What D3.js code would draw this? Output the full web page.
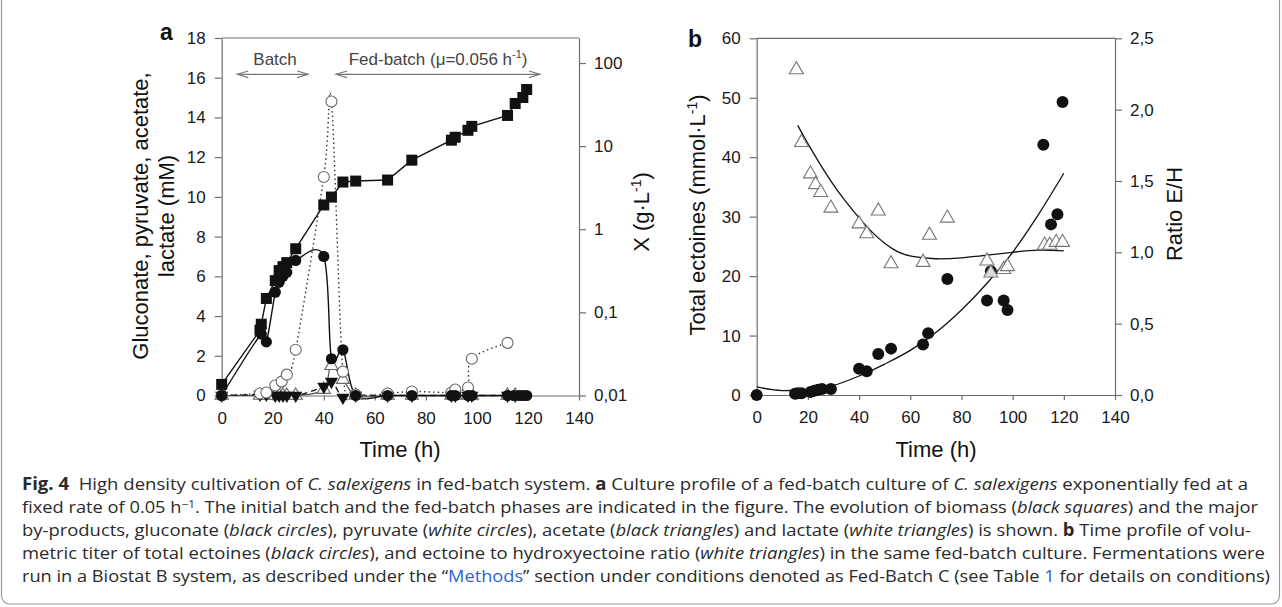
<!DOCTYPE html>
<html><head><meta charset="utf-8">
<script src="https://cdn.jsdelivr.net/npm/d3@7"></script>
<style>body{margin:0;background:#fff}svg{display:block}</style>
</head><body>
<svg id="c" width="1282" height="607"></svg>
<script>
// ---------------- DATA ----------------
// Panel a
const xTicksA = [0,20,40,60,80,100,120,140];
const yTicksA = [0,2,4,6,8,10,12,14,16,18];
const yTicksAR = [0.01,0.1,1,10,100];
const biomassT = [0,15,15.5,17.5,21,22.5,24,25.5,29,40,43,47.5,52.5,65,74.5,90,91.5,96.5,98,112,115,118,119.5];
const biomassX = [0.0136,0.061,0.072,0.147,0.241,0.318,0.355,0.397,0.583,1.96,2.44,3.70,3.80,3.91,6.78,11.8,12.8,15.5,17.3,23.4,32.6,38.5,48.0];
const gluconateT = [0,15.5,17.5,21,22.5,24,25.5,29,40,43,47.5,52.5,65,74.5,90,91.5,96.5,98,112,114.5,116.5,118,119.5];
const gluconateV = [0,3.1,2.7,5.2,5.7,6.0,6.2,6.8,7.0,1.85,2.3,0,0,0,0,0,0,0,0,0,0,0,0];
const pyruvateT = [0,15,17.5,21,23.5,25.5,29,40,43,47.5,52.5,65,74.5,90,91.5,96.5,98,112];
const pyruvateV = [0,0.1,0.15,0.5,0.7,1.05,2.3,11.0,14.8,1.2,0.05,0.1,0.2,0.15,0.3,0.4,1.85,2.65];
const acetateT = [0,15,17.5,21,22.5,24,25.5,29,40,43,47.5,52.5,65,74.5,90,91.5,96.5,98,112,115];
const acetateV = [0,0.05,0.05,0,0,0,0,0,0.45,0.7,-0.1,0,0,0,0,0,0,0,0,0];
const lactateT = [0,15,17.5,21,22.5,24,25.5,29,40,43,47.5,52.5,65,74.5,90,91.5,96.5,98,112,115];
const lactateV = [0,0,0,0,0,0,0,0,0.3,1.5,0.8,0,0,0,0,0,0,0,0,0];
// Panel b
const xTicksB = [0,20,40,60,80,100,120,140];
const yTicksB = [0,10,20,30,40,50,60];
const yTicksBR = [0,0.5,1,1.5,2,2.5];
const ectoT = [0,15,16,17.5,21,22.5,24,25.5,29,40,43,47.5,52.5,65,67,74.5,90,91.5,96.5,98,112,115,117.5,119.5];
const ectoV = [0,0.2,0.3,0.3,0.5,0.7,0.9,1.0,1.0,4.4,4.0,6.9,7.8,8.5,10.4,19.5,15.9,20.8,15.9,14.3,42.1,28.7,30.4,49.3];
const ratioT = [15.5,17.5,21,23,25,29,40,43,47.5,52.5,65,67.5,74.5,90,91.5,96.5,98,112.5,114.5,117,119.5];
const ratioV = [2.28,1.77,1.55,1.475,1.42,1.31,1.2,1.13,1.29,0.92,0.93,1.12,1.24,0.94,0.855,0.88,0.9,1.05,1.05,1.07,1.07];
const fitEctoT = [0,10,20,30,40,50,60,70,80,90,100,110,120];
const fitEctoV = [1.35,0.75,0.8,1.6,3.2,5.2,7.5,10.5,14.3,18.8,24,30.3,37.3];
const fitRatioT = [16,20,25,30,35,40,45,50,55,60,70,80,90,100,110,120];
const fitRatioV = [1.89,1.76,1.61,1.47,1.35,1.24,1.14,1.06,1.0,0.97,0.95,0.96,0.98,1.0,1.02,1.01];

// ---------------- DRAW ----------------
const svg = d3.select("#c");
const FONT = "'Liberation Sans', Arial, sans-serif";
const AX = "#6e6e6e";
const zip = (t,v)=>t.map((d,i)=>[d,v[i]]);
const comma = d=>String(d).replace('.',',');

// figure border
svg.append("rect").attr("x",1.5).attr("y",-20).attr("width",1278).attr("height",624)
  .attr("rx",8).attr("fill","none").attr("stroke","#9a9a9a").attr("stroke-width",1.2);

function styleAxis(g){
  g.selectAll("path,line").attr("stroke",AX).attr("stroke-width",1.2);
  g.selectAll("text").attr("font-family",FONT).attr("font-size",17).attr("fill","#1a1a1a");
}

// ===== Panel a =====
const xa = d3.scaleLinear([0,140],[221.7,579]);
const ya = d3.scaleLinear([0,18],[395.5,38]);
const yaR = d3.scaleLog([0.01,200],[395.5,38]);

svg.append("line").attr("x1",xa(0)).attr("x2",xa(140)).attr("y1",ya(18)).attr("y2",ya(18))
  .attr("stroke",AX).attr("stroke-width",1.2);
svg.append("g").attr("transform",`translate(0,${ya(0)})`)
  .call(d3.axisBottom(xa).tickValues(xTicksA).tickSize(5).tickSizeOuter(0).tickPadding(11)).call(styleAxis);
svg.append("g").attr("transform",`translate(${xa(0)},0)`)
  .call(d3.axisLeft(ya).tickValues(yTicksA).tickSize(7).tickSizeOuter(0).tickPadding(9)).call(styleAxis);
svg.append("g").attr("transform",`translate(${xa(140)},0)`)
  .call(d3.axisRight(yaR).tickValues(yTicksAR).tickFormat(comma).tickSize(7).tickSizeOuter(0).tickPadding(8)).call(styleAxis);

const crU = d3.curveCatmullRom.alpha(0);
const crC = d3.curveCatmullRom.alpha(0.5);
const lineA = d3.line().x(d=>xa(d[0])).y(d=>ya(d[1]));
// lines
svg.append("path").datum(zip(lactateT,lactateV)).attr("d",lineA.curve(crC))
  .attr("fill","none").attr("stroke","#555").attr("stroke-width",1.2);
svg.append("path").datum(zip(acetateT,acetateV)).attr("d",lineA.curve(crC))
  .attr("fill","none").attr("stroke","#111").attr("stroke-width",1.3).attr("stroke-dasharray","6,4");
svg.append("path").datum(zip(pyruvateT,pyruvateV)).attr("d",lineA.curve(crU))
  .attr("fill","none").attr("stroke","#333").attr("stroke-width",1.4).attr("stroke-dasharray","1.5,3");
svg.append("path").datum(zip(gluconateT,gluconateV)).attr("d",lineA.curve(crU))
  .attr("fill","none").attr("stroke","#111").attr("stroke-width",1.4);
svg.append("path").datum(zip(biomassT,biomassX)).attr("d",d3.line().x(d=>xa(d[0])).y(d=>yaR(d[1])))
  .attr("fill","none").attr("stroke","#111").attr("stroke-width",1.4);

const triUp = d3.symbol(d3.symbolTriangle,75)();
// markers
svg.append("g").selectAll("path").data(zip(lactateT,lactateV)).join("path")
  .attr("d",triUp).attr("transform",d=>`translate(${xa(d[0])},${ya(d[1])})`)
  .attr("fill","#fff").attr("stroke","#666").attr("stroke-width",1.1);
svg.append("g").selectAll("path").data(zip(acetateT,acetateV)).join("path")
  .attr("d",triUp).attr("transform",d=>`translate(${xa(d[0])},${ya(d[1])}) rotate(180)`)
  .attr("fill","#111");
svg.append("g").selectAll("circle").data(zip(pyruvateT,pyruvateV)).join("circle")
  .attr("cx",d=>xa(d[0])).attr("cy",d=>ya(d[1])).attr("r",5.5)
  .attr("fill","#fff").attr("stroke","#666").attr("stroke-width",1.1);
svg.append("g").selectAll("circle").data(zip(gluconateT,gluconateV)).join("circle")
  .attr("cx",d=>xa(d[0])).attr("cy",d=>ya(d[1])).attr("r",5.6).attr("fill","#111");
svg.append("g").selectAll("rect").data(zip(biomassT,biomassX)).join("rect")
  .attr("x",d=>xa(d[0])-5.5).attr("y",d=>yaR(d[1])-5.5).attr("width",11).attr("height",11).attr("fill","#111");

// annotations
function dblArrow(x1,x2,y){
  const g = svg.append("g").attr("stroke","#777").attr("stroke-width",1.1).attr("fill","none");
  g.append("line").attr("x1",x1).attr("x2",x2).attr("y1",y).attr("y2",y);
  g.append("path").attr("d",`M${x1+11},${y-3.3}L${x1},${y}L${x1+11},${y+3.3}`);
  g.append("path").attr("d",`M${x2-11},${y-3.3}L${x2},${y}L${x2-11},${y+3.3}`);
}
const arrY = ya(16.17);
dblArrow(xa(6.1), xa(33.9), arrY);
dblArrow(xa(44.8), xa(124.7), arrY);
svg.append("text").attr("x",xa(20.9)).attr("y",ya(16.63)).attr("text-anchor","middle")
  .attr("font-family",FONT).attr("font-size",17).attr("fill","#444").text("Batch");
const fb = svg.append("text").attr("x",xa(84.8)).attr("y",ya(16.63)).attr("text-anchor","middle")
  .attr("font-family",FONT).attr("font-size",17).attr("fill","#444");
fb.append("tspan").text("Fed-batch (\u03BC=0.056 h");
fb.append("tspan").attr("font-size",11).attr("dy",-7).text("-1");
fb.append("tspan").attr("dy",7).text(")");

// titles
function rotText(x,y,size){
  return svg.append("text").attr("transform",`translate(${x},${y}) rotate(-90)`)
    .attr("text-anchor","middle").attr("font-family",FONT).attr("font-size",size).attr("fill","#111");
}
rotText(148,216,22).text("Gluconate, pyruvate, acetate,");
rotText(174,216,22).text("lactate (mM)");
const xt = rotText(649,212,22);
xt.append("tspan").text("X (g\u00B7L");
xt.append("tspan").attr("font-size",14).attr("dy",-8).text("-1");
xt.append("tspan").attr("dy",8).text(")");
svg.append("text").attr("x",400).attr("y",457).attr("text-anchor","middle")
  .attr("font-family",FONT).attr("font-size",22).attr("fill","#111").text("Time (h)");
svg.append("text").attr("x",160).attr("y",40).attr("font-family",FONT).attr("font-weight","bold")
  .attr("font-size",23).attr("fill","#111").text("a");

// ===== Panel b =====
const xb = d3.scaleLinear([0,140],[756.7,1115]);
const yb = d3.scaleLinear([0,60],[395,38.3]);
const ybR = d3.scaleLinear([0,2.5],[395,38.3]);

svg.append("line").attr("x1",xb(0)).attr("x2",xb(140)).attr("y1",yb(60)).attr("y2",yb(60))
  .attr("stroke",AX).attr("stroke-width",1.2);
svg.append("g").attr("transform",`translate(0,${yb(0)})`)
  .call(d3.axisBottom(xb).tickValues(xTicksB).tickSize(5).tickSizeOuter(0).tickPadding(11)).call(styleAxis);
svg.append("g").attr("transform",`translate(${xb(0)},0)`)
  .call(d3.axisLeft(yb).tickValues(yTicksB).tickSize(7).tickSizeOuter(0).tickPadding(9)).call(styleAxis);
svg.append("g").attr("transform",`translate(${xb(140)},0)`)
  .call(d3.axisRight(ybR).tickValues(yTicksBR).tickFormat(d=>comma(d3.format(".1f")(d))).tickSize(7).tickSizeOuter(0).tickPadding(8)).call(styleAxis);

svg.append("path").datum(zip(fitEctoT,fitEctoV))
  .attr("d",d3.line().x(d=>xb(d[0])).y(d=>yb(d[1])).curve(d3.curveMonotoneX))
  .attr("fill","none").attr("stroke","#111").attr("stroke-width",1.3);
svg.append("path").datum(zip(fitRatioT,fitRatioV))
  .attr("d",d3.line().x(d=>xb(d[0])).y(d=>ybR(d[1])).curve(d3.curveBasis))
  .attr("fill","none").attr("stroke","#111").attr("stroke-width",1.3);

const triB = d3.symbol(d3.symbolTriangle,85)();
svg.append("g").selectAll("circle").data(zip(ectoT,ectoV)).join("circle")
  .attr("cx",d=>xb(d[0])).attr("cy",d=>yb(d[1])).attr("r",6).attr("fill","#111");
svg.append("g").selectAll("path").data(zip(ratioT,ratioV)).join("path")
  .attr("d",triB).attr("transform",d=>`translate(${xb(d[0])},${ybR(d[1])})`)
  .attr("fill","#fff").attr("fill-opacity",0.85).attr("stroke","#777").attr("stroke-width",1.1);

const et = rotText(705,215,22);
et.append("tspan").text("Total ectoines (mmol\u00B7L");
et.append("tspan").attr("font-size",14).attr("dy",-8).text("-1");
et.append("tspan").attr("dy",8).text(")");
rotText(1182,214,22).text("Ratio E/H");
svg.append("text").attr("x",936).attr("y",457).attr("text-anchor","middle")
  .attr("font-family",FONT).attr("font-size",22).attr("fill","#111").text("Time (h)");
svg.append("text").attr("x",688).attr("y",47).attr("font-family",FONT).attr("font-weight","bold")
  .attr("font-size",23).attr("fill","#111").text("b");

// ===== Caption =====
const capLines = [
  {y:490, w:1226, parts:[["Fig. 4","b"],["  High density cultivation of ",""],["C. salexigens","i"],[" in fed-batch system. ",""],["a","b"],[" Culture profile of a fed-batch culture of ",""],["C. salexigens","i"],[" exponentially fed at a",""]]},
  {y:513, w:1236, parts:[["fixed rate of 0.05 h",""],["\u22121","sup"],[". The initial batch and the fed-batch phases are indicated in the figure. The evolution of biomass (","after"],["black squares","i"],[") and the major",""]]},
  {y:536, w:1229, parts:[["by-products, gluconate (",""],["black circles","i"],["), pyruvate (",""],["white circles","i"],["), acetate (",""],["black triangles","i"],[") and lactate (",""],["white triangles","i"],[") is shown. ",""],["b","b"],[" Time profile of volu-",""]]},
  {y:559, w:1243, parts:[["metric titer of total ectoines (",""],["black circles","i"],["), and ectoine to hydroxyectoine ratio (",""],["white triangles","i"],[") in the same fed-batch culture. Fermentations were",""]]},
  {y:582, w:1248, parts:[["run in a Biostat B system, as described under the \u201C",""],["Methods","link"],["\u201D section under conditions denoted as Fed-Batch C (see Table ",""],["1","link"],[" for details on conditions)",""]]}
];
capLines.forEach(L=>{
  const t = svg.append("text").attr("x",22).attr("y",L.y).attr("font-family","'Open Sans', sans-serif")
    .attr("font-size",17).attr("fill","#2a2a2a").attr("textLength",L.w).attr("lengthAdjust","spacingAndGlyphs")
    .attr("xml:space","preserve").style("white-space","pre");
  L.parts.forEach(([s,k])=>{
    const ts = t.append("tspan").text(s);
    if(k==="b") ts.attr("font-weight","bold");
    if(k==="i") ts.attr("font-style","italic");
    if(k==="link") ts.attr("fill","#2f5fd0");
    if(k==="sup") ts.attr("font-size",11).attr("dy",-5);
    if(k==="after") ts.attr("dy",5);
  });
});
</script>
</body></html>
